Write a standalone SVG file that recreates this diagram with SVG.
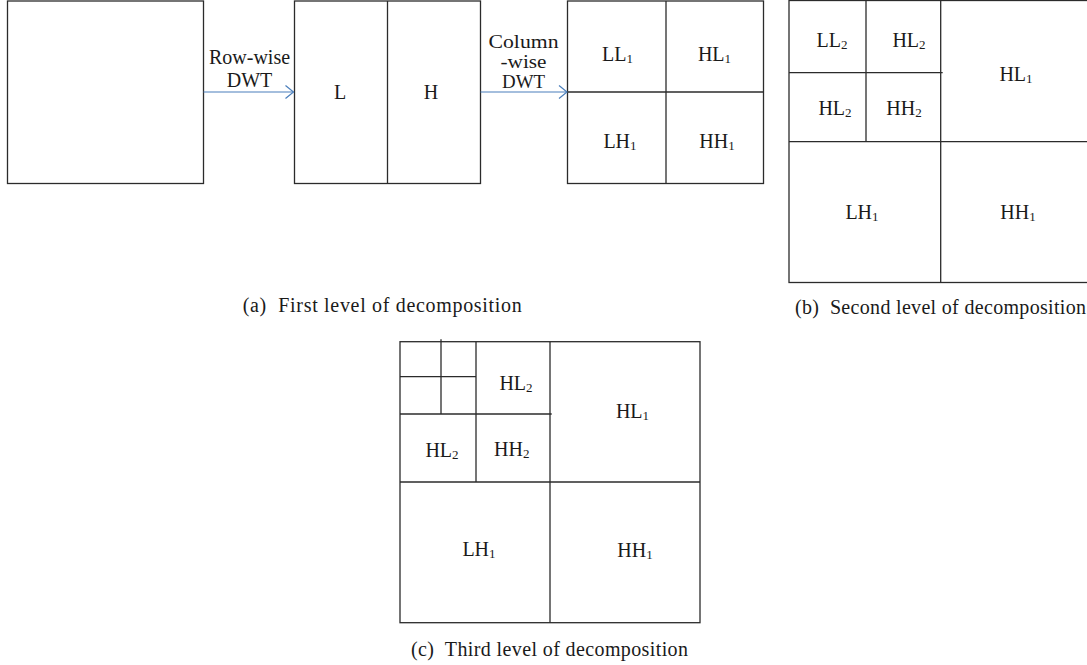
<svg xmlns="http://www.w3.org/2000/svg" width="1087" height="665" viewBox="0 0 1087 665">
<defs>
<style>
.box{fill:#fff;stroke:#2b2b2b;stroke-width:1.3}
.ln{stroke:#2b2b2b;stroke-width:1.3;fill:none}
.lbl{font-family:"Liberation Serif","Times New Roman",serif;font-size:20px;fill:#1a1a1a;text-anchor:middle}
.stk{font-family:"Liberation Serif","Times New Roman",serif;font-size:18px;fill:#1a1a1a;text-anchor:middle}
.cap{font-family:"Liberation Serif","Times New Roman",serif;font-size:20px;fill:#1a1a1a}
.arr{stroke:#4a7ebb;stroke-width:1.2;fill:none}
</style>
<marker id="chev" markerWidth="10" markerHeight="16" refX="9" refY="7.5" orient="auto" markerUnits="userSpaceOnUse">
<path d="M1,1 L9,7.5 L1,14" fill="none" stroke="#4a7ebb" stroke-width="1.2"/>
</marker>
</defs>
<rect width="1087" height="665" fill="#fff"/>

<g id="input">
<rect class="box" x="7.5" y="1" width="196" height="182.5"/>
</g>

<g id="rowwise">
<rect class="box" x="294.5" y="1" width="186" height="182.5"/>
<line class="ln" x1="387.5" y1="1" x2="387.5" y2="183.5"/>
<text class="lbl" x="340" y="99">L</text>
<text class="lbl" x="431" y="99">H</text>
</g>

<g id="level1">
<rect class="box" x="567.5" y="1" width="196" height="182.5"/>
<line class="ln" x1="666" y1="1" x2="666" y2="183.5"/>
<line class="ln" x1="567.5" y1="92" x2="763.5" y2="92"/>
<text class="lbl" x="617.5" y="61">LL<tspan font-size="13" dy="2">1</tspan></text>
<text class="lbl" x="714.5" y="61">HL<tspan font-size="13" dy="2">1</tspan></text>
<text class="lbl" x="620" y="148">LH<tspan font-size="13" dy="2">1</tspan></text>
<text class="lbl" x="717" y="148">HH<tspan font-size="13" dy="2">1</tspan></text>
</g>

<g id="level2">
<rect class="box" x="789" y="0.5" width="304" height="282"/>
<line class="ln" x1="940.7" y1="0.5" x2="940.7" y2="282.5"/>
<line class="ln" x1="789" y1="141.7" x2="1093" y2="141.7"/>
<line class="ln" x1="866" y1="0.5" x2="866" y2="141.7"/>
<line class="ln" x1="789" y1="72.7" x2="942.7" y2="72.7"/>
<text class="lbl" x="832" y="47">LL<tspan font-size="13" dy="2">2</tspan></text>
<text class="lbl" x="909" y="47">HL<tspan font-size="13" dy="2">2</tspan></text>
<text class="lbl" x="1016" y="81">HL<tspan font-size="13" dy="2">1</tspan></text>
<text class="lbl" x="835" y="115">HL<tspan font-size="13" dy="2">2</tspan></text>
<text class="lbl" x="904" y="115">HH<tspan font-size="13" dy="2">2</tspan></text>
<text class="lbl" x="862" y="219">LH<tspan font-size="13" dy="2">1</tspan></text>
<text class="lbl" x="1018" y="219">HH<tspan font-size="13" dy="2">1</tspan></text>
</g>

<g id="level3">
<rect class="box" x="400" y="341.7" width="300" height="281"/>
<line class="ln" x1="550" y1="341.7" x2="550" y2="622.7"/>
<line class="ln" x1="400" y1="482" x2="700" y2="482"/>
<line class="ln" x1="476" y1="341.7" x2="476" y2="482"/>
<line class="ln" x1="400" y1="414" x2="551.7" y2="414"/>
<line class="ln" x1="441" y1="339.3" x2="441" y2="414"/>
<line class="ln" x1="400" y1="376.7" x2="476" y2="376.7"/>
<text class="lbl" x="516" y="390">HL<tspan font-size="13" dy="2">2</tspan></text>
<text class="lbl" x="632.5" y="418">HL<tspan font-size="13" dy="2">1</tspan></text>
<text class="lbl" x="442" y="456.5">HL<tspan font-size="13" dy="2">2</tspan></text>
<text class="lbl" x="511.7" y="456">HH<tspan font-size="13" dy="2">2</tspan></text>
<text class="lbl" x="479" y="555.5">LH<tspan font-size="13" dy="2">1</tspan></text>
<text class="lbl" x="635" y="556.5">HH<tspan font-size="13" dy="2">1</tspan></text>
</g>

<g id="connectors">
<line class="arr" x1="203.5" y1="92" x2="293.5" y2="92" marker-end="url(#chev)"/>
<line class="arr" x1="480.5" y1="92" x2="567" y2="92" marker-end="url(#chev)"/>
<text class="lbl" x="249.5" y="63.5">Row-wise</text>
<text class="lbl" x="249.5" y="87">DWT</text>
<text class="stk" x="523.5" y="47.5" textLength="70" lengthAdjust="spacingAndGlyphs">Column</text>
<text class="stk" x="523.5" y="67.5" textLength="46" lengthAdjust="spacingAndGlyphs">-wise</text>
<text class="stk" x="523.5" y="87.5" textLength="43" lengthAdjust="spacingAndGlyphs">DWT</text>
</g>

<g id="captions">
<text class="cap" x="242.7" y="312" textLength="279" lengthAdjust="spacing" xml:space="preserve">(a)  First level of decomposition</text>
<text class="cap" x="795" y="314" textLength="291" lengthAdjust="spacing" xml:space="preserve">(b)  Second level of decomposition</text>
<text class="cap" x="411" y="655.5" textLength="277" lengthAdjust="spacing" xml:space="preserve">(c)  Third level of decomposition</text>
</g>
</svg>
